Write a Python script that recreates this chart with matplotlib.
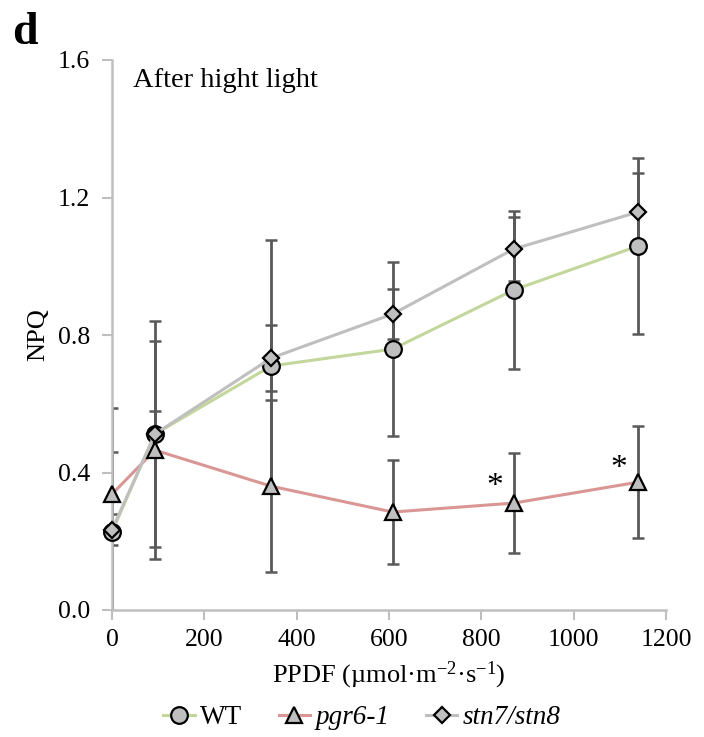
import matplotlib
matplotlib.use("Agg")
import matplotlib.pyplot as plt
from matplotlib.lines import Line2D

plt.rcParams['font.family'] = ['Liberation Serif', 'DejaVu Serif']
plt.rcParams['mathtext.fontset'] = 'custom'
plt.rcParams['mathtext.rm'] = 'Liberation Serif'
plt.rcParams['mathtext.it'] = 'Liberation Serif:italic'

ppfd = [0, 93, 345, 608, 870, 1140]
wt = [0.227, 0.512, 0.710, 0.759, 0.931, 1.059]
wt_err = [0.36, 0.33, 0.366, 0.253, 0.23, 0.255]
pgr6 = [0.337, 0.465, 0.360, 0.285, 0.311, 0.372]
pgr6_err = [0.123, 0.317, 0.25, 0.151, 0.146, 0.162]
stn78 = [0.233, 0.512, 0.733, 0.861, 1.050, 1.158]
stn78_err = [0.045, 0.066, 0.096, 0.073, 0.093, 0.113]
star_x = [830, 1098]
star_y = [0.358, 0.412]
series_names = ["WT", "pgr6-1", "stn7/stn8"]

fig = plt.figure(figsize=(7.04, 7.37), dpi=100)
ax = fig.add_axes([112/704, 1-610/737, (666-112)/704, (610-60)/737])

ecol = '#595959'
mfc = '#bfbfbf'
line_cols = ['#c3d69b', '#d99694', '#bfbfbf']
markers = ['o', '^', 'D']
msizes = [12, 12, 8.5]
data = [(wt, wt_err), (pgr6, pgr6_err), (stn78, stn78_err)]

for (y, e) in data:
    ax.errorbar(ppfd, y, yerr=e, fmt='none', ecolor=ecol, elinewidth=2,
                capsize=4, capthick=1.8, zorder=2, clip_on=True)

for (y, e), c, m, ms in zip(data, line_cols, markers, msizes):
    ax.plot(ppfd, y, color=c, lw=2.2, marker=m, ms=ms, mfc=mfc, mec='black',
            mew=1.6, zorder=3, clip_on=False)

for sx, sy in zip(star_x, star_y):
    ax.text(sx, sy, '*', ha='center', va='center', fontsize=24)

ax.set_xlim(0, 1200)
ax.set_ylim(0, 1.6)
ax.set_xticks(range(0, 1201, 200))
ax.set_yticks([0, 0.4, 0.8, 1.2, 1.6])
ax.set_yticklabels(['0.0', '0.4', '0.8', '1.2', '1.6'])
for s in ['top', 'right']:
    ax.spines[s].set_visible(False)
for s in ['left', 'bottom']:
    ax.spines[s].set_color('#bfbfbf')
    ax.spines[s].set_linewidth(1.8)
ax.tick_params(axis='both', colors='#bfbfbf', labelcolor='black', labelsize=18.5,
               length=7, width=1.5, direction='out')
ax.tick_params(axis='x', pad=7)
ax.tick_params(axis='y', pad=9)

ax.set_ylabel('NPQ', fontsize=19, labelpad=6)
ax.set_xlabel('PPDF (µmol·m$^{-2}$·s$^{-1}$)', fontsize=19, labelpad=6)
ax.text(0.038, 0.985, 'After hight light', transform=ax.transAxes, fontsize=20.5,
        ha='left', va='top')

fig.text(12/704, 1-33/737, 'd', fontsize=33, fontweight='bold', ha='left', va='center')

handles = [Line2D([], [], color=c, lw=2.2, marker=m, ms=ms, mfc=mfc, mec='black', mew=1.6)
           for c, m, ms in zip(line_cols, markers, msizes)]
leg = fig.legend(handles, series_names, loc='center', bbox_to_anchor=(362/704, 1-718/737),
                 ncol=3, frameon=False, fontsize=19.5, handlelength=1.15,
                 columnspacing=1.35, handletextpad=0.2)
for t in leg.get_texts()[1:]:
    t.set_fontstyle('italic')

fig.savefig('out.png', dpi=100)
